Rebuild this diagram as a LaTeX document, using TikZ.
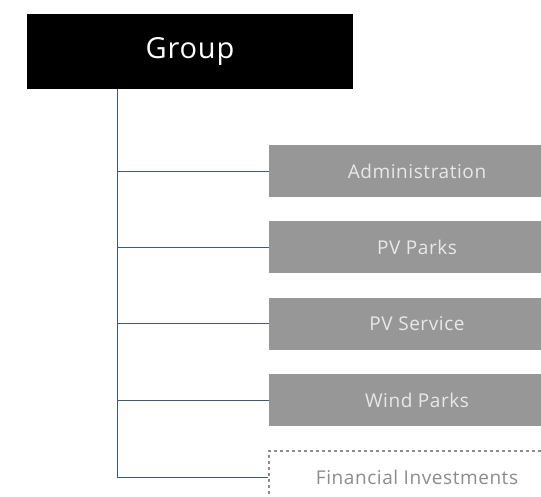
\documentclass[tikz,border=0pt]{standalone}
\usepackage{fontspec}
\setmainfont{Open Sans}[LetterSpace=3]
\usetikzlibrary{positioning}
\definecolor{link}{RGB}{62,86,128}
\definecolor{unit}{RGB}{150,151,150}
\definecolor{unittext}{RGB}{232,232,232}
\definecolor{dashgray}{RGB}{140,140,140}
\tikzstyle{head} = [rectangle, fill=black, text=white, minimum width=326bp, minimum height=75bp, inner sep=0pt, font=\fontsize{29bp}{32bp}\selectfont]
\tikzstyle{unit} = [rectangle, fill=unit, text=unittext, minimum width=296bp, minimum height=52bp, inner sep=0pt, font=\fontsize{19bp}{22bp}\selectfont]
\tikzstyle{planned} = [rectangle, draw=dashgray, dash pattern=on 3bp off 3bp, line width=1.8bp, text=dashgray, minimum width=296bp, minimum height=52bp, inner sep=0pt, font=\fontsize{19bp}{22bp}\selectfont]
\tikzstyle{branch} = [draw=link, line width=0.9bp]

\begin{document}
\begin{tikzpicture}[x=1bp, y=-1bp, node distance=24bp]
                    \clip (0,0) rectangle (541,497);
                    \fill[white] (0,0) rectangle (541,497);
                    \node[head] (group) at (190,51.5) {Group};
                    \coordinate (stem) at (117,89);

                    \node[unit] (admin) at (417,171) {Administration};
                    \node[unit, below=of admin] (pvparks) {PV Parks};
                    \node[unit, below=of pvparks] (pvservice) {PV Service};
                    \node[unit, below=of pvservice] (wind) {Wind Parks};
                    \node[planned, below=of wind] (finance) {Financial Investments};

                    \draw[branch] (stem) |- (admin.west);
                    \draw[branch] (stem) |- (pvparks.west);
                    \draw[branch] (stem) |- (pvservice.west);
                    \draw[branch] (stem) |- (wind.west);
                    \draw[branch] (stem) |- (finance.west);
                \end{tikzpicture}
\end{document}
